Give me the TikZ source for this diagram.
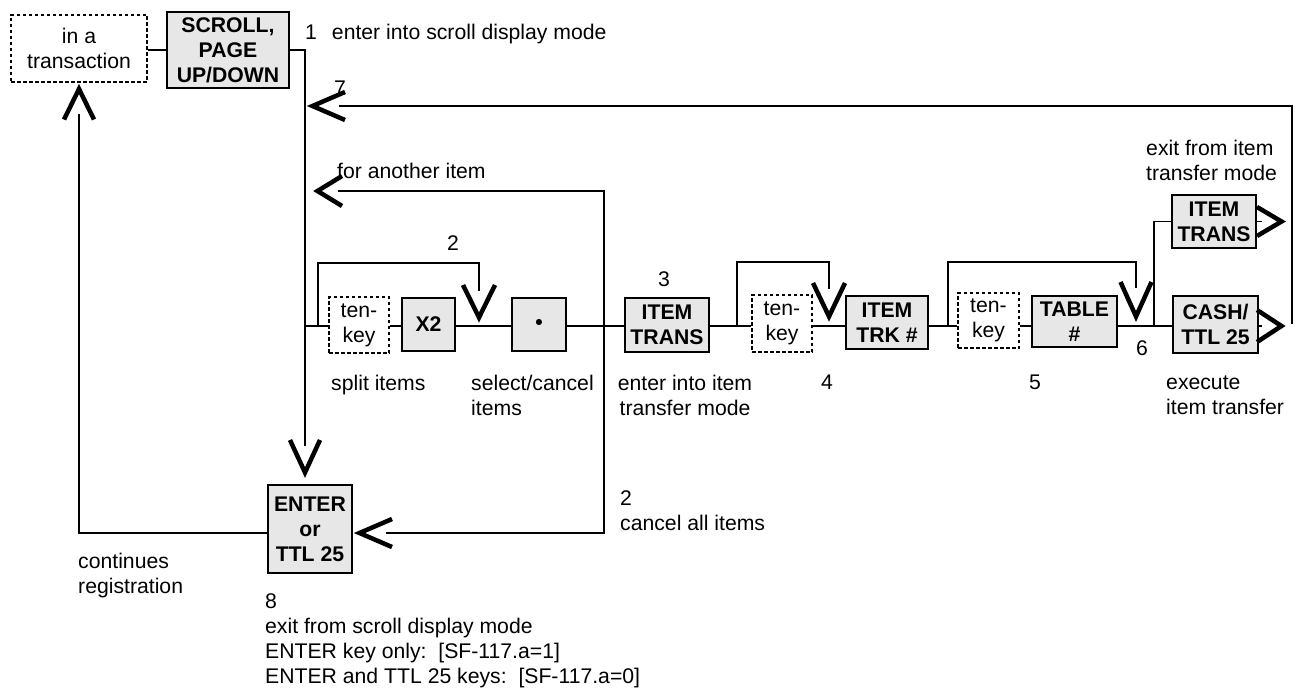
\documentclass[tikz,border=0pt]{standalone}
\usepackage{fontspec}
\setmainfont{Liberation Sans}
\usetikzlibrary{arrows.meta}
\definecolor{boxfill}{RGB}{231,231,231}
\pgfdeclarearrow{
  name = Chev,
  defaults = { length = 36pt, width = 30pt },
  parameters = {\the\pgfarrowlength,\the\pgfarrowwidth},
  setup code = {
    \pgfarrowssettipend{0pt}
    \pgfarrowssetlineend{-.85\pgfarrowlength}
    \pgfarrowssetbackend{-\pgfarrowlength}
    \pgfarrowshullpoint{0pt}{0pt}
    \pgfarrowshullpoint{-\pgfarrowlength}{.5\pgfarrowwidth}
    \pgfarrowshullpoint{-\pgfarrowlength}{-.5\pgfarrowwidth}
    \pgfarrowssavethe\pgfarrowlength
    \pgfarrowssavethe\pgfarrowwidth
  },
  drawing code = {
    \pgfsetdash{}{0pt}
    \pgfsetbuttcap
    \pgfsetmiterjoin
    \pgfsetlinewidth{4.5pt}
    \pgfpathmoveto{\pgfqpoint{-\pgfarrowlength}{.5\pgfarrowwidth}}
    \pgfpathlineto{\pgfqpoint{-5.5pt}{0pt}}
    \pgfpathlineto{\pgfqpoint{-\pgfarrowlength}{-.5\pgfarrowwidth}}
    \pgfusepathqstroke
  }
}
\newcommand{\mylinesl}[1]{\begin{tabular}[t]{@{}l@{}}#1\end{tabular}}
\newcommand{\mylinesc}[1]{\begin{tabular}[t]{@{}c@{}}#1\end{tabular}}
\begin{document}
\begin{tikzpicture}[x=1pt,y=-1pt,
  every node/.style={font=\fontsize{21.2}{25}\selectfont},
  conn/.style={line width=1.6pt},
  keybox/.style={draw, line width=2pt, fill=boxfill, inner sep=0pt, align=center,
    font=\fontsize{21.2}{25}\selectfont\bfseries},
  tenbox/.style={draw, line width=2pt, dash pattern=on 3.5pt off 2.5pt, inner sep=0pt, align=center},
  lbl/.style={inner sep=0pt},
]
\useasboundingbox (0,0) rectangle (1295,688);

% ---------- boxes ----------
\node[tenbox, minimum width=136pt, minimum height=67pt] (trans) at (79,48) {in a\\transaction};
\node[keybox, minimum width=122pt, minimum height=76pt] (scroll) at (228,50) {SCROLL,\\PAGE\\UP/DOWN};
\node[tenbox, minimum width=60pt, minimum height=56pt] (tk1) at (359,325) {ten-\\key};
\node[keybox, minimum width=53pt, minimum height=53pt] (x2) at (428.5,324.5) {X2};
\node[keybox, minimum width=54pt, minimum height=53pt] (dot) at (539,324.5) {•};
\node[keybox, minimum width=84pt, minimum height=54pt] (itrans) at (667,325) {ITEM\\TRANS};
\node[tenbox, minimum width=60pt, minimum height=57pt] (tk2) at (782,323.5) {ten-\\key};
\node[keybox, minimum width=82pt, minimum height=53pt] (trk) at (887,322.5) {ITEM\\TRK \#};
\node[tenbox, minimum width=61pt, minimum height=55pt] (tk3) at (988.5,320.5) {ten-\\key};
\node[keybox, minimum width=85pt, minimum height=51pt] (table) at (1074.5,321.5) {TABLE\\\#};
\node[keybox, minimum width=84pt, minimum height=53pt] (itrans2) at (1214,221.5) {ITEM\\TRANS};
\node[keybox, minimum width=85pt, minimum height=57pt] (cash) at (1215.5,324.5) {CASH/\\TTL 25};
\node[keybox, minimum width=84pt, minimum height=88pt] (enter) at (310,529) {ENTER\\or\\TTL 25};

% ---------- labels ----------
\node[lbl, anchor=base west] (l1) at (305,39) {1\hspace{15pt}enter into scroll display mode};
\node[lbl, anchor=base west] (l7) at (334,95) {7};
\node[lbl, anchor=base west] (lfa) at (337,178) {for another item};
\node[lbl, anchor=base] (l2a) at (453,250) {2};
\node[lbl, anchor=base] (l3) at (664,286) {3};
\node[lbl, anchor=base west] (lsplit) at (331,390) {split items};
\node[lbl, anchor=base west] (lsel) at (471,390) {\mylinesl{select/cancel\\items}};
\node[lbl, anchor=base] (lent) at (685,390) {\mylinesc{enter into item\\transfer mode}};
\node[lbl, anchor=base] (l4) at (827,389) {4};
\node[lbl, anchor=base] (l5) at (1035,389) {5};
\node[lbl, anchor=base] (l6) at (1142,355) {6};
\node[lbl, anchor=base west] (lexit) at (1146,155) {\mylinesl{exit from item\\transfer mode}};
\node[lbl, anchor=base west] (lexec) at (1166,389) {\mylinesl{execute\\item transfer}};
\node[lbl, anchor=base west] (lcan) at (620,505) {\mylinesl{2\\cancel all items}};
\node[lbl, anchor=base west] (lcont) at (78,568) {\mylinesl{continues\\registration}};
\node[lbl, anchor=base west] (l8) at (265,608) {\mylinesl{8\\exit from scroll display mode\\ENTER key only:\ \ [SF-117.a=1]\\ENTER and TTL 25 keys:\ \ [SF-117.a=0]}};

% ---------- coordinates ----------
\coordinate (M) at (0,326);
\coordinate (v1) at (305,50);
\coordinate (mstart) at (305,326);
\coordinate (b1s) at (318,326);
\coordinate (b1a) at (318,263);
\coordinate (b1b) at (479,263);
\coordinate (b1e) at (479,326);
\coordinate (j2) at (604,326);
\coordinate (fa) at (604,191);
\coordinate (ca) at (604,533);
\coordinate (b2s) at (737,326);
\coordinate (b2a) at (737,262);
\coordinate (b2b) at (829,262);
\coordinate (b2e) at (829,326);
\coordinate (b3s) at (948,326);
\coordinate (b3a) at (948,262);
\coordinate (b3b) at (1136,262);
\coordinate (b3e) at (1136,326);
\coordinate (j6) at (1154,326);
\coordinate (rvt) at (1292,106);
\coordinate (rvb) at (1292,324);

% ---------- connectors ----------
\draw[conn] (trans.east |- scroll.west) -- (scroll.west);
\draw[conn, -{Chev[length=38pt,width=30pt]}, shorten >=6pt] (scroll.east) -- (v1) -- (v1 |- enter.north);
\draw[conn] (mstart) -- (tk1.west |- M);
\draw[conn] (tk1.east |- M) -- (x2.west |- M);
\draw[conn] (x2.east |- M) -- (dot.west |- M);
\draw[conn] (dot.east |- M) -- (itrans.west |- M);
\draw[conn] (itrans.east |- M) -- (tk2.west |- M);
\draw[conn] (tk2.east |- M) -- (trk.west |- M);
\draw[conn] (trk.east |- M) -- (tk3.west |- M);
\draw[conn] (tk3.east |- M) -- (table.west |- M);
\draw[conn] (table.east |- M) -- (cash.west |- M);
\draw[conn, -{Chev[length=38pt,width=32pt]}, shorten >=3pt] (b1s) -- (b1a) -- (b1b) -- (b1e);
\draw[conn, -{Chev[length=39pt,width=32pt]}, shorten >=4pt] (b2s) -- (b2a) -- (b2b) -- (b2e);
\draw[conn, -{Chev[length=40pt,width=31pt]}, shorten >=4pt] (b3s) -- (b3a) -- (b3b) -- (b3e);
\draw[conn, -{Chev[length=30pt,width=30pt]}, shorten >=7pt] (j2) -- (fa) -- (fa -| v1);
\draw[conn, -{Chev[length=38pt,width=28pt]}, shorten >=1pt] (j2) -- (ca) -- (ca -| enter.east);
\draw[conn, -{Chev[length=36pt,width=30pt]}, shorten >=1pt] (enter.west |- ca) -| (trans.south);
\draw[conn] (j6) |- (itrans2.west);
\draw[conn, -{Chev[length=30pt,width=29pt]}, shorten >=5pt] (itrans2.east) -- (itrans2.east -| rvt);
\draw[conn, -{Chev[length=30pt,width=32pt]}, shorten >=5pt] (cash.east |- M) -- (rvb |- M);
\draw[conn, -{Chev[length=38pt,width=28pt]}, shorten >=2pt] (rvb) -- (rvt) -- (rvt -| v1);
\end{tikzpicture}
\end{document}
